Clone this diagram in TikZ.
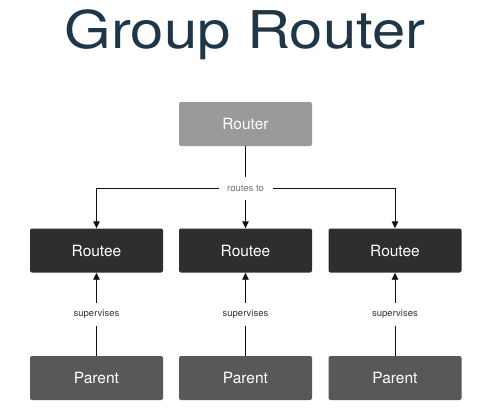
\documentclass[tikz,border=0pt]{standalone}
\usepackage{fontspec}
\setmainfont{TeX Gyre Heros}
\usetikzlibrary{arrows.meta}
\definecolor{titlec}{HTML}{1F3646}
\definecolor{routerc}{HTML}{9A9A9A}
\definecolor{routeec}{HTML}{2E2E2E}
\definecolor{parentc}{HTML}{585858}
\definecolor{linec}{HTML}{111111}
\begin{document}
\begin{tikzpicture}[x=1pt,y=-1pt,
  box/.style={rounded corners=2pt,minimum width=133pt,minimum height=44pt,inner sep=0pt,
    text=white,font=\fontsize{15.5}{18}\selectfont},
  routerbox/.style={box,fill=routerc},
  routeebox/.style={box,fill=routeec},
  parentbox/.style={box,fill=parentc},
  conn/.style={draw=linec,line width=0.9pt},
  arr/.style={conn,-{Triangle[length=7pt,width=6.5pt]}},
  lab/.style={fill=white,inner sep=0pt,minimum height=23pt,font=\fontsize{9.5}{11}\selectfont}
]
\useasboundingbox (0,0) rectangle (490,415);
\node[text=titlec,font=\fontsize{52}{60}\selectfont,anchor=base] (title) at (245,48) {\scalebox{1.15}[1]{Group Router}};
\node[routerbox] (router) at (245.5,124) {Router};
\node[routeebox] (r1) at (96.5,250.5) {Routee};
\node[routeebox] (r2) at (245.5,250.5) {Routee};
\node[routeebox] (r3) at (395,250.5) {Routee};
\node[parentbox] (p1) at (96.5,378) {Parent};
\node[parentbox] (p2) at (245.5,378) {Parent};
\node[parentbox] (p3) at (395,378) {Parent};
\coordinate (j) at (245.5,188);
\coordinate (jl) at (96.5,188);
\coordinate (jr) at (395,188);
\draw[conn] (router.south) -- (j);
\draw[conn] (jl) -- (jr);
\draw[arr] (j) -- (r2.north);
\draw[arr] (jl) -- (r1.north);
\draw[arr] (jr) -- (r3.north);
\draw[arr] (p1.north) -- (r1.south);
\draw[arr] (p2.north) -- (r2.south);
\draw[arr] (p3.north) -- (r3.south);
\node[lab,text=black!55,minimum width=54pt] (rt) at (j) {routes to};
\node[lab,text=black!80,minimum width=50pt] (s1) at (96.5,314.5) {supervises};
\node[lab,text=black!80,minimum width=50pt] (s2) at (245.5,314.5) {supervises};
\node[lab,text=black!80,minimum width=50pt] (s3) at (395,314.5) {supervises};
\end{tikzpicture}
\end{document}
